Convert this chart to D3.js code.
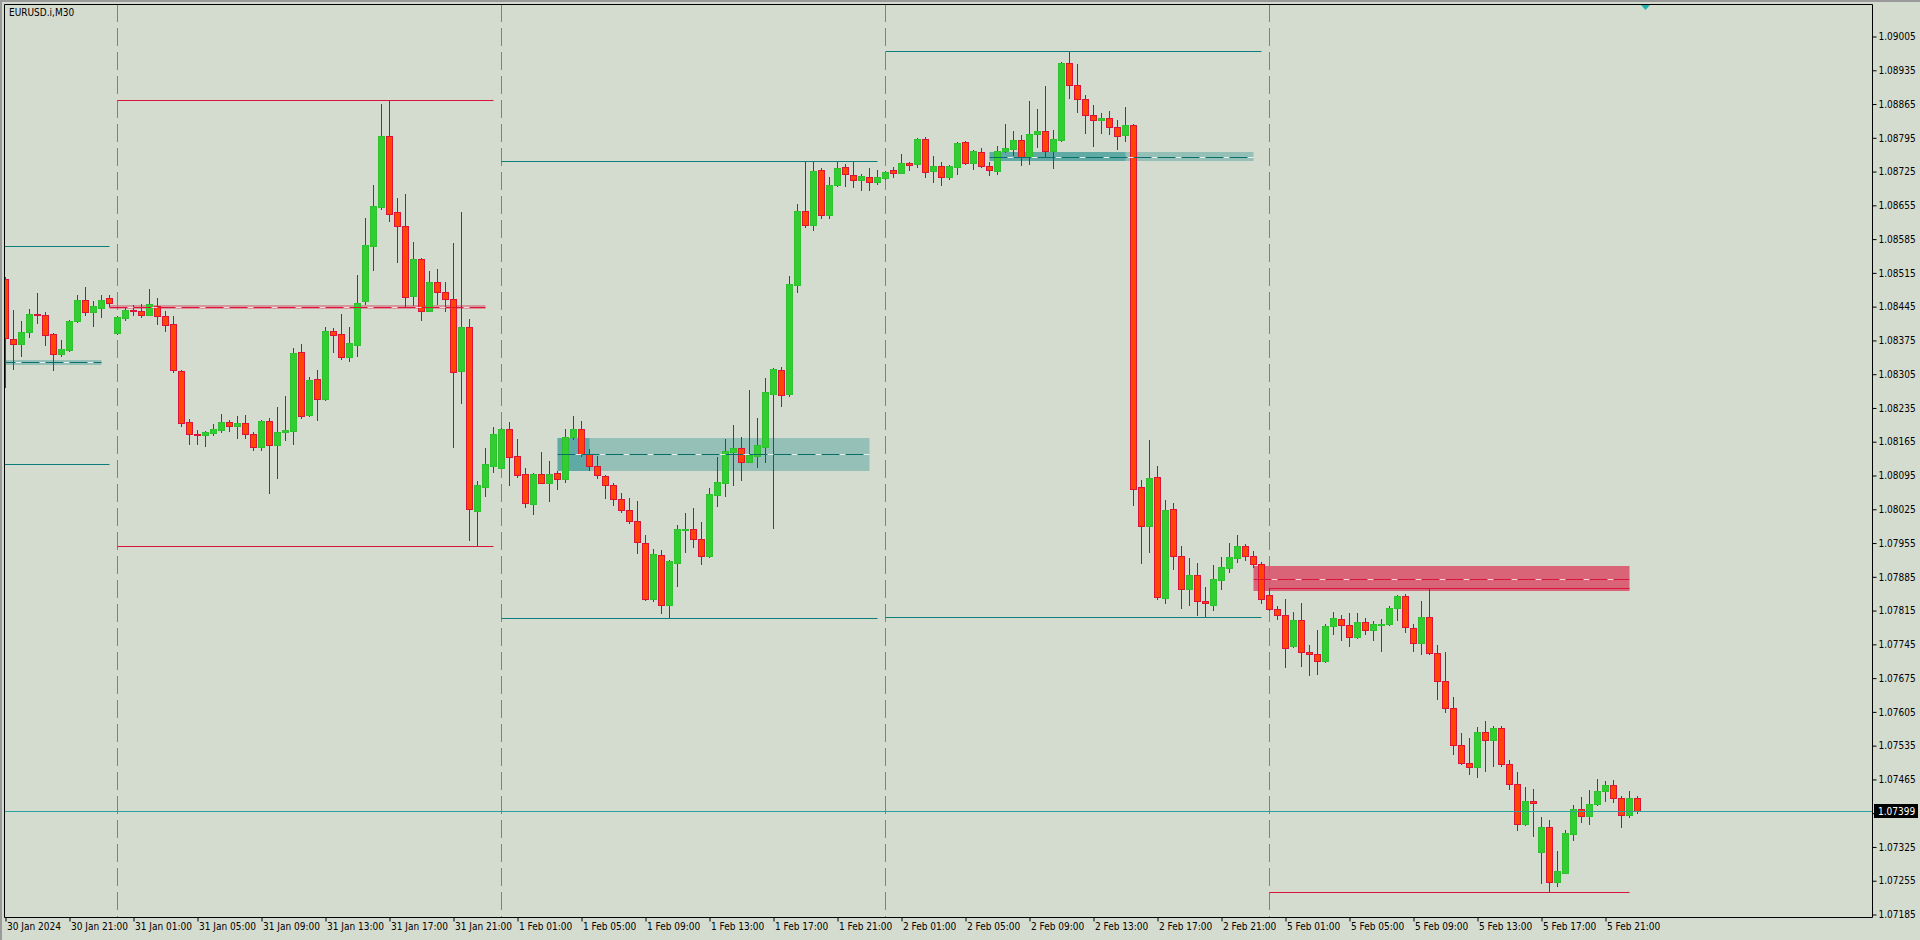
<!DOCTYPE html>
<html><head><meta charset="utf-8">
<script src="https://cdn.jsdelivr.net/npm/d3@7"></script>
<style>
html,body{margin:0;padding:0;background:#D4DCD0;overflow:hidden}
svg{display:block}
</style></head><body>
<svg id="c" width="1920" height="940"></svg>
<script>
const symbolLabel = "EURUSD.i,M30";

// bar index 0 = 30 Jan 17:00 (M30 bars)
const open = [
1.08502,1.08378,1.08368,1.08392,1.08430,1.08428,1.08388,1.08347,1.08355,1.08415,
1.08459,1.08433,1.08443,1.08463,1.08391,1.08422,1.08438,1.08436,1.08428,1.08446,
1.08426,1.08409,1.08312,1.08206,1.08181,1.08179,1.08183,1.08190,1.08206,1.08198,
1.08204,1.08181,1.08155,1.08208,1.08159,1.08186,1.08188,1.08351,1.08221,1.08295,
1.08254,1.08394,1.08388,1.08341,1.08366,1.08457,1.08571,1.08652,1.08799,1.08641,
1.08612,1.08468,1.08544,1.08437,1.08496,1.08476,1.08461,1.08312,1.08403,1.08022,
1.08072,1.08115,1.08111,1.08191,1.08136,1.08098,1.08036,1.08098,1.08080,1.08100,
1.08088,1.08175,1.08191,1.08140,1.08115,1.08094,1.08075,1.08047,1.08023,1.08001,
1.07955,1.07840,1.07930,1.07827,1.07914,1.07982,1.07984,1.07963,1.07929,1.08055,
1.08080,1.08144,1.08152,1.08124,1.08136,1.08155,1.08263,1.08314,1.08263,1.08490,
1.08643,1.08615,1.08728,1.08634,1.08697,1.08734,1.08718,1.08708,1.08714,1.08704,
1.08712,1.08728,1.08723,1.08743,1.08741,1.08793,1.08727,1.08737,1.08714,1.08735,
1.08786,1.08743,1.08766,1.08737,1.08727,1.08768,1.08772,1.08791,1.08755,1.08803,
1.08809,1.08768,1.08791,1.08950,1.08905,1.08876,1.08843,1.08831,1.08836,1.08818,
1.08800,1.08822,1.08071,1.07991,1.08092,1.07842,1.08025,1.07929,1.07859,1.07889,
1.07834,1.07827,1.07879,1.07904,1.07925,1.07949,1.07929,1.07912,1.07847,1.07819,
1.07805,1.07741,1.07795,1.07730,1.07724,1.07710,1.07782,1.07797,1.07786,1.07761,
1.07791,1.07774,1.07786,1.07788,1.07820,1.07846,1.07779,1.07748,1.07802,1.07728,
1.07668,1.07614,1.07537,1.07500,1.07491,1.07563,1.07547,1.07572,1.07496,1.07456,
1.07373,1.07420,1.07315,1.07366,1.07253,1.07272,1.07352,1.07404,1.07390,1.07414,
1.07441,1.07453,1.07427,1.07392,1.07426];
const high = [
1.08506,1.08438,1.08415,1.08440,1.08473,1.08433,1.08390,1.08376,1.08417,1.08469,
1.08486,1.08457,1.08469,1.08469,1.08426,1.08442,1.08448,1.08451,1.08482,1.08463,
1.08435,1.08426,1.08314,1.08212,1.08189,1.08187,1.08202,1.08222,1.08210,1.08218,
1.08220,1.08185,1.08210,1.08214,1.08237,1.08260,1.08360,1.08368,1.08300,1.08314,
1.08403,1.08401,1.08430,1.08403,1.08511,1.08629,1.08697,1.08865,1.08873,1.08670,
1.08678,1.08579,1.08545,1.08519,1.08523,1.08496,1.08577,1.08641,1.08419,1.08084,
1.08152,1.08196,1.08194,1.08206,1.08171,1.08110,1.08100,1.08144,1.08125,1.08104,
1.08191,1.08219,1.08208,1.08150,1.08136,1.08096,1.08080,1.08059,1.08048,1.08042,
1.07972,1.07943,1.07941,1.07920,1.07992,1.08017,1.08028,1.07999,1.08069,1.08134,
1.08171,1.08200,1.08175,1.08272,1.08214,1.08297,1.08318,1.08320,1.08509,1.08658,
1.08745,1.08745,1.08732,1.08714,1.08745,1.08741,1.08746,1.08720,1.08732,1.08728,
1.08726,1.08734,1.08761,1.08745,1.08795,1.08797,1.08757,1.08745,1.08739,1.08786,
1.08788,1.08770,1.08774,1.08745,1.08778,1.08824,1.08809,1.08801,1.08871,1.08855,
1.08902,1.08811,1.08952,1.08974,1.08948,1.08884,1.08863,1.08847,1.08851,1.08832,
1.08859,1.08824,1.08086,1.08169,1.08115,1.08044,1.08038,1.07949,1.07924,1.07914,
1.07864,1.07910,1.07926,1.07955,1.07972,1.07953,1.07939,1.07916,1.07862,1.07825,
1.07838,1.07813,1.07831,1.07744,1.07775,1.07787,1.07812,1.07806,1.07810,1.07810,
1.07800,1.07793,1.07797,1.07825,1.07848,1.07849,1.07787,1.07835,1.07860,1.07744,
1.07729,1.07636,1.07561,1.07551,1.07574,1.07586,1.07576,1.07576,1.07505,1.07480,
1.07449,1.07445,1.07387,1.07381,1.07317,1.07360,1.07412,1.07429,1.07443,1.07466,
1.07462,1.07464,1.07431,1.07441,1.07431];
const low = [
1.08279,1.08316,1.08343,1.08383,1.08412,1.08366,1.08314,1.08343,1.08353,1.08413,
1.08428,1.08405,1.08424,1.08447,1.08388,1.08418,1.08428,1.08424,1.08427,1.08409,
1.08394,1.08310,1.08198,1.08161,1.08161,1.08157,1.08179,1.08186,1.08187,1.08173,
1.08173,1.08148,1.08148,1.08059,1.08090,1.08169,1.08160,1.08215,1.08218,1.08210,
1.08251,1.08352,1.08336,1.08333,1.08343,1.08451,1.08520,1.08648,1.08623,1.08538,
1.08445,1.08449,1.08418,1.08436,1.08451,1.08437,1.08155,1.08246,1.07962,1.07949,
1.08053,1.08103,1.08110,1.08076,1.08092,1.08030,1.08016,1.08079,1.08043,1.08066,
1.08081,1.08171,1.08136,1.08107,1.08090,1.08049,1.08034,1.08020,1.07997,1.07935,
1.07837,1.07835,1.07811,1.07800,1.07865,1.07937,1.07947,1.07912,1.07927,1.08032,
1.08053,1.08076,1.08086,1.08123,1.08113,1.08124,1.07987,1.08240,1.08260,1.08476,
1.08611,1.08604,1.08629,1.08628,1.08695,1.08695,1.08694,1.08687,1.08687,1.08700,
1.08710,1.08714,1.08722,1.08728,1.08735,1.08714,1.08704,1.08698,1.08710,1.08721,
1.08741,1.08731,1.08735,1.08717,1.08721,1.08766,1.08759,1.08739,1.08741,1.08776,
1.08757,1.08732,1.08788,1.08878,1.08849,1.08804,1.08779,1.08805,1.08802,1.08772,
1.08789,1.08034,1.07914,1.07936,1.07840,1.07830,1.07902,1.07821,1.07826,1.07805,
1.07802,1.07817,1.07859,1.07894,1.07916,1.07920,1.07905,1.07830,1.07817,1.07797,
1.07699,1.07739,1.07701,1.07681,1.07684,1.07708,1.07767,1.07755,1.07742,1.07759,
1.07767,1.07755,1.07732,1.07785,1.07795,1.07771,1.07732,1.07724,1.07726,1.07632,
1.07605,1.07518,1.07496,1.07477,1.07469,1.07483,1.07493,1.07493,1.07446,1.07361,
1.07371,1.07348,1.07251,1.07231,1.07245,1.07270,1.07340,1.07377,1.07373,1.07411,
1.07421,1.07419,1.07367,1.07388,1.07396];
const close = [
1.08379,1.08368,1.08392,1.08430,1.08428,1.08387,1.08347,1.08357,1.08415,1.08459,
1.08433,1.08446,1.08459,1.08453,1.08424,1.08438,1.08435,1.08428,1.08450,1.08426,
1.08408,1.08313,1.08204,1.08180,1.08179,1.08185,1.08191,1.08206,1.08198,1.08204,
1.08180,1.08155,1.08208,1.08159,1.08185,1.08189,1.08349,1.08219,1.08293,1.08254,
1.08394,1.08387,1.08341,1.08370,1.08453,1.08573,1.08654,1.08799,1.08638,1.08613,
1.08466,1.08544,1.08437,1.08496,1.08476,1.08461,1.08310,1.08403,1.08026,1.08075,
1.08119,1.08181,1.08191,1.08134,1.08097,1.08039,1.08098,1.08080,1.08098,1.08088,
1.08175,1.08191,1.08140,1.08115,1.08095,1.08076,1.08047,1.08024,1.08001,1.07958,
1.07840,1.07932,1.07827,1.07918,1.07984,1.07984,1.07964,1.07929,1.08057,1.08081,
1.08146,1.08152,1.08124,1.08138,1.08158,1.08268,1.08316,1.08262,1.08492,1.08643,
1.08615,1.08726,1.08634,1.08697,1.08732,1.08719,1.08708,1.08716,1.08704,1.08714,
1.08724,1.08723,1.08743,1.08739,1.08793,1.08725,1.08737,1.08714,1.08737,1.08784,
1.08743,1.08768,1.08737,1.08729,1.08768,1.08774,1.08791,1.08755,1.08803,1.08809,
1.08768,1.08793,1.08950,1.08905,1.08876,1.08843,1.08831,1.08836,1.08818,1.08799,
1.08822,1.08068,1.07991,1.08090,1.07844,1.08023,1.07929,1.07859,1.07889,1.07834,
1.07830,1.07880,1.07905,1.07926,1.07949,1.07929,1.07912,1.07838,1.07819,1.07805,
1.07738,1.07795,1.07730,1.07724,1.07710,1.07782,1.07800,1.07786,1.07761,1.07791,
1.07774,1.07788,1.07788,1.07821,1.07846,1.07780,1.07748,1.07802,1.07728,1.07668,
1.07614,1.07537,1.07500,1.07491,1.07563,1.07547,1.07572,1.07496,1.07456,1.07373,
1.07420,1.07416,1.07366,1.07253,1.07275,1.07354,1.07404,1.07390,1.07414,1.07441,
1.07453,1.07427,1.07392,1.07426,1.07399];

const xTickIndex = [0,8,16,24,32,40,48,56,64,72,80,88,96,104,112,120,128,136,144,152,160,168,176,184,192,200];
const xTickLabels = ["30 Jan 2024","30 Jan 21:00","31 Jan 01:00","31 Jan 05:00","31 Jan 09:00","31 Jan 13:00","31 Jan 17:00","31 Jan 21:00",
  "1 Feb 01:00","1 Feb 05:00","1 Feb 09:00","1 Feb 13:00","1 Feb 17:00","1 Feb 21:00",
  "2 Feb 01:00","2 Feb 05:00","2 Feb 09:00","2 Feb 13:00","2 Feb 17:00","2 Feb 21:00",
  "5 Feb 01:00","5 Feb 05:00","5 Feb 09:00","5 Feb 13:00","5 Feb 17:00","5 Feb 21:00"];
const yTicks = [1.09005,1.08935,1.08865,1.08795,1.08725,1.08655,1.08585,1.08515,1.08445,1.08375,1.08305,1.08235,1.08165,
  1.08095,1.08025,1.07955,1.07885,1.07815,1.07745,1.07675,1.07605,1.07535,1.07465,1.07395,1.07325,1.07255,1.07185];
const yTickLabels = ["1.09005","1.08935","1.08865","1.08795","1.08725","1.08655","1.08585","1.08515","1.08445","1.08375","1.08305","1.08235","1.08165",
  "1.08095","1.08025","1.07955","1.07885","1.07815","1.07745","1.07675","1.07605","1.07535","1.07465","","1.07325","1.07255","1.07185"];

// day separators (bar index of 00:00)
const daySeparators = [14, 62, 110, 158];
// daily high / low levels
const dayFrom = [-34, 14, 62, 110, 158];
const dayTo   = [13, 61, 109, 157, 203];
const dayHigh = [1.08571, 1.08873, 1.08747, 1.08974, 1.07862];
const dayLow  = [1.08119, 1.07949, 1.07799, 1.07802, 1.07231];
const dayKind = ["bull","bear","bull","bull","bear"];
// zones
const zoneFrom = [-4, 13, 69, 123, 156];
const zoneTo   = [12, 60, 108, 156, 203];
const zoneTop  = [1.08334, 1.08448, 1.08173, 1.08766, 1.07907];
const zoneBot  = [1.08324, 1.08440, 1.08105, 1.08746, 1.07856];
const zoneMid  = [1.08330, 1.08444, 1.08139, 1.08755, 1.07881];
const zoneKind = ["bull","bear","bull","bull","bear"];
const zoneAlpha = [0.3, 0.35, 0.3, 0.3, 0.6];
const overlapFrom = [null, null, 69, 123, null];
const overlapTo   = [null, null, 73, 140, null];
const currentPrice = 1.07399;
const shiftMarkBar = 205;

const svg = d3.select("#c");
const P = {l:4, t:4, r:1872, b:917};
const x = d3.scaleLinear().domain([0, 204]).range([5.5, 1637.5]);
const y = d3.scaleLinear().domain([1.07185, 1.09005]).range([914.5, 36.5]);
const FONT = "'DejaVu Sans Condensed','Liberation Sans',Arial,sans-serif";
const FS = "10px";

svg.append("rect").attr("width",1920).attr("height",940).attr("fill","#D4DCD0");

svg.append("defs").append("clipPath").attr("id","pc").append("rect")
  .attr("x",P.l+1).attr("y",P.t+1).attr("width",P.r-P.l-1).attr("height",P.b-P.t-1);
const g = svg.append("g").attr("clip-path","url(#pc)");

const TEAL = "#0B7D7B", CRIM = "#DC143C";
const col = k => k==="bull" ? TEAL : CRIM;
const tealRGB = "0,128,128", redRGB = "220,20,60";

// zones (behind candles)
zoneFrom.forEach((f,j)=>{
  const rgb = zoneKind[j]==="bull" ? tealRGB : redRGB;
  g.append("rect").attr("x",x(f)).attr("width",x(zoneTo[j])-x(f))
    .attr("y",Math.round(y(zoneTop[j]))).attr("height",Math.max(1,Math.round(y(zoneBot[j]))-Math.round(y(zoneTop[j]))))
    .attr("fill",`rgba(${rgb},${zoneAlpha[j]})`);
  if(overlapFrom[j]!==null){
    g.append("rect").attr("x",x(overlapFrom[j])).attr("width",x(overlapTo[j])-x(overlapFrom[j]))
      .attr("y",Math.round(y(zoneTop[j]))).attr("height",Math.round(y(zoneBot[j]))-Math.round(y(zoneTop[j])))
      .attr("fill",`rgba(${rgb},0.35)`);
  }
});

// day separators
daySeparators.forEach(i=>{
  g.append("line").attr("x1",x(i)).attr("x2",x(i)).attr("y1",P.t).attr("y2",P.b)
    .attr("stroke","#808080").attr("stroke-width",1).attr("stroke-dasharray","18,6");
});

// candles
const bars = d3.range(open.length).map(i=>({i,o:open[i],h:high[i],l:low[i],c:close[i]}));
g.selectAll("line.wick").data(bars).join("line").attr("class","wick")
  .attr("x1",d=>x(d.i)).attr("x2",d=>x(d.i))
  .attr("y1",d=>Math.round(y(d.h))).attr("y2",d=>Math.round(y(d.l))+1)
  .attr("stroke","#2F4F4F").attr("stroke-width",1);
bars.forEach(d=>{
  const bull = d.c >= d.o;
  const t = Math.round(y(Math.max(d.o,d.c))), b = Math.round(y(Math.min(d.o,d.c)));
  const fill = bull ? "#32CD32" : "#FF4500", stroke = bull ? "#2EC02E" : "#DC143C";
  if(b - t < 1){
    g.append("line").attr("x1",x(d.i)-3.5).attr("x2",x(d.i)+3.5).attr("y1",t+0.5).attr("y2",t+0.5)
      .attr("stroke",stroke).attr("stroke-width",1);
  } else {
    g.append("rect").attr("x",x(d.i)-3).attr("width",6).attr("y",t+0.5).attr("height",b-t)
      .attr("fill",fill).attr("stroke",stroke).attr("stroke-width",1);
  }
});

// zone midlines
zoneFrom.forEach((f,j)=>{
  const ym = Math.round(y(zoneMid[j]))+0.5;
  const light = zoneKind[j]==="bull" ? "rgba(240,246,242,0.9)" : "rgba(250,225,230,0.9)";
  const dark = zoneKind[j]==="bull" ? "#0B6E6C" : CRIM;
  g.append("line").attr("x1",x(f)).attr("x2",x(zoneTo[j])).attr("y1",ym).attr("y2",ym).attr("stroke",light);
  g.append("line").attr("x1",x(f)).attr("x2",x(zoneTo[j])).attr("y1",ym).attr("y2",ym)
    .attr("stroke",dark).attr("stroke-dasharray","18,6");
});

// daily high/low lines
dayFrom.forEach((f,j)=>{
  [dayHigh[j], dayLow[j]].forEach(v=>{
    const yy = Math.round(y(v))+0.5;
    g.append("line").attr("x1",x(f)).attr("x2",x(dayTo[j])).attr("y1",yy).attr("y2",yy)
      .attr("stroke",col(dayKind[j])).attr("stroke-width",1);
  });
});

// current price line
const yc = Math.round(y(currentPrice))+0.5;
g.append("line").attr("x1",P.l).attr("x2",P.r).attr("y1",yc).attr("y2",yc).attr("stroke","#2AA39E");

// shift marker
const sx = x(shiftMarkBar);
svg.append("path").attr("d",`M${sx-4.5},5 L${sx+4.5},5 L${sx},10 Z`).attr("fill","#20B2AA");

// frame
svg.append("rect").attr("x",0).attr("y",0).attr("width",1920).attr("height",2).attr("fill","#9A9A9A");
svg.append("rect").attr("x",0).attr("y",0).attr("width",2).attr("height",940).attr("fill","#9A9A9A");
svg.append("path").attr("d",`M${P.l+0.5},${P.b+0.5} V${P.t+0.5} H${P.r+0.5} V${P.b+0.5} Z`)
  .attr("fill","none").attr("stroke","#000").attr("stroke-width",1);

// y axis
const ya = svg.append("g").attr("transform",`translate(${P.r+0.5},0)`)
  .call(d3.axisRight(y).tickValues(yTicks).tickSize(4).tickPadding(2).tickFormat((d,j)=>yTickLabels[j]));
ya.select(".domain").remove();
ya.selectAll("line").attr("stroke","#000");
ya.selectAll("text").attr("font-family",FONT).attr("font-size",FS).attr("fill","#000");

// x axis
const xa = svg.append("g").attr("transform",`translate(0,${P.b+0.5})`)
  .call(d3.axisBottom(x).tickValues(xTickIndex).tickSize(4).tickFormat((d,j)=>xTickLabels[j]));
xa.select(".domain").remove();
xa.selectAll("line").attr("stroke","#000");
xa.selectAll("text").attr("font-family",FONT).attr("font-size",FS).attr("fill","#000")
  .attr("text-anchor","start").attr("x",1).attr("y",5);

// current price label
const lbl = svg.append("g");
lbl.append("rect").attr("x",P.r+2).attr("y",yc-7.5).attr("width",44).attr("height",14).attr("fill","#000");
lbl.append("text").attr("x",P.r+6).attr("y",yc).attr("dy","0.35em").attr("font-family",FONT)
  .attr("font-size",FS).attr("fill","#fff").text(d3.format(".5f")(currentPrice));

// symbol label
svg.append("text").attr("x",9).attr("y",16).attr("font-family",FONT).attr("font-size",FS)
  .attr("fill","#000").text(symbolLabel);
</script>
</body></html>
